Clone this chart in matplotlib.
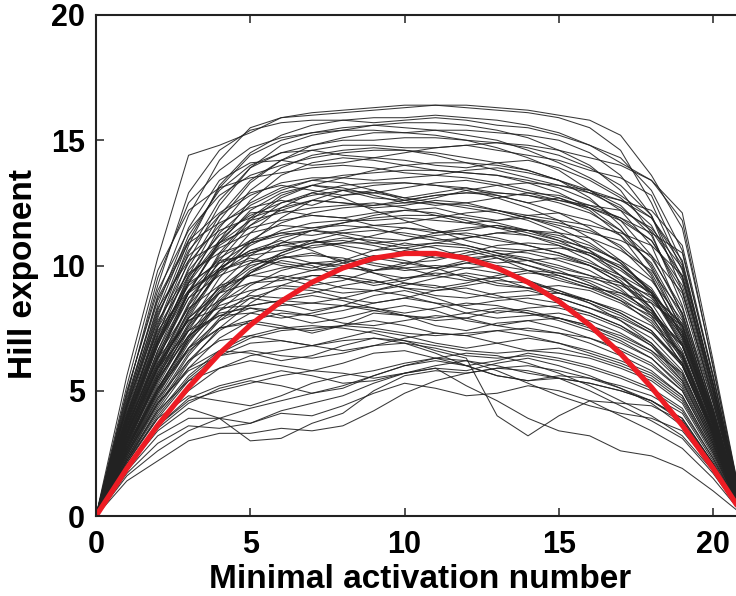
import numpy as np
import matplotlib
matplotlib.use("Agg")
import matplotlib.pyplot as plt

# minimal activation number (x) and Hill exponent curves
n_act = list(range(22))

red_mean = [0, 1.90, 3.62, 5.14, 6.48, 7.62, 8.57, 9.33, 9.90, 10.29, 10.48,
            10.48, 10.29, 9.90, 9.33, 8.57, 7.62, 6.48, 5.14, 3.62, 1.90, 0]

hill_curves = [
    [0, 5.6, 10.3, 14.4, 14.8, 15.3, 15.9, 16.0, 16.1, 16.2, 16.3, 16.4, 16.4, 16.3, 16.2, 16.0, 15.8, 15.2, 13.6, 11.5, 6.0, 0],
    [0, 4.5, 8.8, 12.0, 14.2, 15.5, 15.9, 16.1, 16.2, 16.3, 16.4, 16.4, 16.3, 16.2, 16.1, 15.9, 15.5, 14.6, 12.5, 9.8, 5.0, 0],
    [0, 4.0, 7.6, 10.8, 13.2, 14.5, 15.2, 15.6, 15.8, 15.9, 15.9, 16.0, 15.9, 15.8, 15.6, 15.3, 14.8, 14.1, 13.4, 11.8, 5.9, 0],
    [0, 4.8, 9.5, 12.5, 13.8, 14.7, 15.1, 15.3, 15.4, 15.4, 15.3, 15.4, 15.4, 15.3, 15.2, 15.0, 14.5, 13.6, 12.0, 9.0, 4.6, 0],
    [0, 3.8, 7.2, 10.2, 12.4, 13.9, 14.8, 15.2, 15.4, 15.6, 15.7, 15.7, 15.6, 15.4, 15.1, 14.6, 14.0, 13.0, 11.3, 8.4, 4.2, 0],
    [0, 4.3, 8.2, 11.2, 13.0, 14.0, 14.5, 14.8, 15.0, 15.0, 15.1, 15.1, 15.0, 14.9, 14.7, 14.4, 13.9, 13.2, 12.0, 9.5, 5.0, 0],
    [0, 3.5, 6.8, 9.6, 11.8, 13.3, 14.2, 14.8, 15.1, 15.3, 15.3, 15.2, 15.0, 14.7, 14.3, 13.8, 13.0, 12.2, 10.8, 8.0, 4.0, 0],
    [0, 5.0, 9.0, 11.4, 12.8, 13.6, 14.0, 14.3, 14.5, 14.6, 14.6, 14.5, 14.3, 14.1, 13.8, 13.4, 12.9, 12.3, 11.4, 9.6, 5.2, 0],
    [0, 3.6, 6.9, 9.5, 11.3, 12.4, 13.0, 13.4, 13.6, 13.7, 13.8, 13.8, 13.7, 13.6, 13.4, 13.1, 12.6, 11.8, 10.4, 8.1, 4.3, 0],
    [0, 4.2, 8.0, 10.6, 12.0, 12.8, 13.3, 13.5, 13.5, 13.4, 13.5, 13.6, 13.5, 13.3, 13.0, 12.7, 12.3, 11.8, 11.0, 9.2, 4.8, 0],
    [0, 3.1, 6.0, 8.5, 10.4, 11.8, 12.7, 13.2, 13.5, 13.8, 14.0, 14.1, 14.1, 14.0, 13.8, 13.4, 12.7, 11.6, 9.9, 7.4, 3.8, 0],
    [0, 3.9, 7.3, 9.8, 11.2, 12.0, 12.5, 12.8, 13.0, 13.2, 13.3, 13.2, 13.1, 12.9, 12.8, 12.5, 12.1, 11.4, 10.3, 8.3, 4.5, 0],
    [0, 2.9, 5.6, 8.0, 9.9, 11.3, 12.3, 12.9, 13.2, 13.3, 13.3, 13.2, 13.0, 12.7, 12.3, 11.8, 11.1, 10.2, 8.9, 6.8, 3.6, 0],
    [0, 4.6, 8.6, 10.9, 11.7, 12.3, 12.6, 12.4, 12.8, 13.0, 12.7, 12.9, 13.1, 12.8, 12.5, 12.7, 12.2, 11.2, 9.6, 7.1, 3.8, 0],
    [0, 3.3, 6.4, 9.0, 10.8, 11.6, 12.2, 12.6, 12.5, 12.4, 12.6, 12.8, 12.9, 12.9, 12.8, 12.6, 12.3, 11.9, 11.3, 10.5, 5.6, 0],
    [0, 3.7, 7.0, 9.4, 11.0, 12.1, 12.2, 12.0, 11.9, 12.1, 12.2, 12.3, 12.0, 11.8, 11.9, 11.7, 11.4, 10.8, 9.7, 7.5, 3.9, 0],
    [0, 2.7, 5.3, 7.6, 9.5, 10.9, 11.9, 12.6, 13.0, 12.9, 12.7, 12.5, 12.3, 12.1, 11.8, 11.3, 10.6, 9.6, 8.3, 6.3, 3.3, 0],
    [0, 4.0, 7.7, 10.1, 11.6, 12.5, 13.1, 13.4, 13.3, 13.0, 12.6, 12.4, 12.5, 12.7, 12.9, 12.8, 12.4, 11.9, 11.0, 9.0, 4.7, 0],
    [0, 3.0, 5.8, 8.1, 9.8, 10.8, 11.4, 11.7, 11.8, 11.8, 11.9, 11.8, 11.7, 11.5, 11.2, 10.8, 10.2, 9.4, 8.3, 6.4, 3.4, 0],
    [0, 3.5, 6.6, 8.9, 10.3, 11.0, 11.3, 11.2, 11.4, 11.6, 11.5, 11.3, 11.4, 11.6, 11.3, 11.0, 10.7, 10.2, 9.4, 7.8, 4.2, 0],
    [0, 2.6, 5.0, 7.2, 8.9, 10.1, 10.9, 11.4, 11.7, 11.9, 12.0, 12.0, 11.9, 11.7, 11.4, 11.0, 10.4, 9.6, 8.5, 6.6, 3.5, 0],
    [0, 4.4, 7.8, 9.7, 10.5, 10.9, 11.2, 11.4, 11.3, 11.1, 11.0, 11.2, 11.3, 11.1, 10.8, 10.5, 10.1, 9.6, 8.9, 7.6, 4.1, 0],
    [0, 3.2, 6.1, 8.4, 9.9, 10.6, 10.8, 10.7, 10.9, 11.2, 11.5, 11.4, 11.0, 10.7, 10.6, 10.4, 10.0, 9.3, 8.2, 6.2, 3.3, 0],
    [0, 2.8, 5.4, 7.5, 9.0, 9.9, 10.5, 10.9, 11.1, 11.0, 10.8, 10.9, 11.1, 11.3, 11.2, 10.9, 10.5, 9.9, 9.0, 7.3, 3.9, 0],
    [0, 3.8, 7.1, 9.2, 10.2, 10.4, 10.6, 10.9, 11.0, 10.8, 10.5, 10.3, 10.4, 10.6, 10.5, 10.2, 9.8, 9.1, 8.0, 6.0, 3.2, 0],
    [0, 2.5, 4.9, 7.0, 8.6, 9.7, 10.4, 10.8, 10.9, 10.9, 10.7, 10.4, 10.3, 10.4, 10.6, 10.7, 10.5, 10.0, 9.1, 7.2, 3.8, 0],
    [0, 3.4, 6.5, 8.7, 9.6, 10.1, 10.4, 10.1, 9.9, 10.2, 10.6, 10.8, 10.7, 10.4, 10.0, 9.6, 9.2, 8.8, 8.1, 6.9, 3.7, 0],
    [0, 4.1, 7.4, 9.0, 9.8, 10.3, 10.0, 9.8, 10.1, 10.4, 10.2, 9.9, 10.1, 10.3, 10.0, 9.7, 9.5, 9.2, 8.6, 7.4, 4.0, 0],
    [0, 2.4, 4.6, 6.5, 7.9, 8.9, 9.5, 9.8, 9.9, 9.8, 9.9, 10.0, 9.9, 9.7, 9.4, 9.0, 8.5, 7.8, 6.9, 5.5, 3.0, 0],
    [0, 3.3, 6.0, 7.9, 8.9, 9.3, 9.4, 9.6, 9.5, 9.3, 9.5, 9.7, 9.6, 9.3, 9.1, 8.9, 8.6, 8.2, 7.6, 6.5, 3.5, 0],
    [0, 2.2, 4.3, 6.1, 7.5, 8.5, 9.2, 9.6, 9.6, 9.4, 9.1, 9.0, 9.2, 9.4, 9.3, 9.0, 8.6, 8.1, 7.4, 6.1, 3.3, 0],
    [0, 3.0, 5.6, 7.4, 8.4, 8.8, 8.7, 8.9, 9.2, 9.4, 9.1, 8.8, 8.7, 8.9, 9.0, 8.7, 8.3, 7.8, 7.1, 5.8, 3.1, 0],
    [0, 2.6, 5.1, 7.0, 8.2, 8.7, 8.5, 8.2, 8.4, 8.8, 9.0, 8.7, 8.3, 8.1, 8.3, 8.4, 8.1, 7.6, 6.8, 5.4, 2.9, 0],
    [0, 3.6, 6.3, 7.8, 8.3, 8.4, 8.6, 8.8, 8.6, 8.3, 8.1, 8.3, 8.5, 8.4, 8.1, 7.9, 7.6, 7.2, 6.6, 5.7, 3.1, 0],
    [0, 2.3, 4.4, 6.2, 7.4, 8.1, 8.4, 8.5, 8.4, 8.2, 8.0, 7.9, 8.1, 8.3, 8.2, 7.9, 7.5, 7.0, 6.3, 5.1, 2.8, 0],
    [0, 2.9, 5.4, 7.2, 8.1, 8.3, 8.0, 7.7, 7.9, 8.2, 8.4, 8.2, 7.8, 7.6, 7.8, 7.9, 7.6, 7.1, 6.5, 5.3, 2.9, 0],
    [0, 3.1, 5.7, 7.6, 8.9, 9.7, 10.2, 10.0, 9.5, 9.2, 9.4, 9.8, 10.1, 9.9, 9.4, 8.9, 8.5, 8.0, 7.3, 6.0, 3.2, 0],
    [0, 2.1, 4.0, 5.5, 6.5, 7.1, 7.4, 7.5, 7.6, 7.5, 7.3, 7.2, 7.3, 7.4, 7.2, 6.9, 6.6, 6.2, 5.7, 4.8, 2.6, 0],
    [0, 2.5, 4.7, 6.2, 7.0, 7.2, 7.0, 6.8, 7.1, 7.4, 7.2, 6.9, 6.7, 6.9, 7.1, 6.9, 6.5, 6.1, 5.6, 4.7, 2.5, 0],
    [0, 2.0, 3.7, 5.0, 5.9, 6.4, 6.6, 6.8, 7.0, 7.1, 7.0, 6.8, 6.6, 6.5, 6.6, 6.7, 6.4, 6.0, 5.5, 4.6, 2.5, 0],
    [0, 2.3, 4.2, 5.4, 5.9, 6.2, 6.0, 5.8, 6.1, 6.5, 6.6, 6.3, 6.0, 6.2, 6.5, 6.3, 6.0, 5.6, 5.1, 4.3, 2.3, 0],
    [0, 1.9, 3.4, 4.3, 3.9, 3.0, 3.1, 3.7, 4.1, 5.0, 5.6, 5.8, 5.7, 5.9, 6.0, 5.8, 5.5, 5.2, 4.8, 4.1, 2.2, 0],
    [0, 2.2, 4.1, 5.6, 6.6, 7.2, 7.5, 7.6, 7.5, 7.3, 7.0, 6.6, 6.3, 4.0, 3.2, 4.0, 4.6, 4.5, 4.4, 3.8, 2.1, 0],
    [0, 2.0, 3.6, 4.7, 5.2, 5.5, 5.8, 5.6, 5.3, 5.4, 5.7, 5.9, 5.2, 4.6, 3.9, 3.4, 3.2, 2.6, 2.4, 1.9, 1.0, 0],
    [0, 2.4, 4.5, 5.9, 6.6, 6.5, 6.2, 6.4, 6.8, 7.1, 6.9, 6.5, 6.0, 5.6, 5.4, 5.5, 5.3, 5.0, 4.6, 3.9, 2.1, 0],
    [0, 1.8, 3.2, 3.9, 3.9, 3.7, 4.2, 4.5, 4.8, 5.3, 5.7, 5.9, 5.8, 6.1, 6.3, 6.0, 5.6, 5.1, 4.5, 3.6, 2.0, 0],
    [0, 2.7, 5.0, 6.6, 7.5, 7.8, 7.6, 7.3, 7.6, 8.1, 8.0, 7.6, 7.4, 7.7, 7.8, 7.5, 7.1, 6.6, 6.0, 5.0, 2.7, 0],
    [0, 4.9, 9.2, 12.9, 14.6, 15.4, 15.7, 15.8, 15.8, 15.7, 15.8, 15.9, 15.8, 15.6, 15.5, 15.2, 14.8, 14.3, 13.0, 10.6, 5.5, 0],
    [0, 3.9, 7.5, 10.5, 12.6, 13.9, 14.5, 14.6, 14.4, 14.3, 14.5, 14.7, 14.8, 14.6, 14.4, 14.2, 13.8, 13.5, 12.8, 10.1, 5.2, 0],
    [0, 4.4, 8.4, 11.5, 13.4, 14.1, 14.2, 14.0, 14.1, 14.3, 14.2, 14.0, 13.9, 14.1, 14.2, 13.9, 13.4, 12.7, 11.6, 9.4, 4.9, 0],
    [0, 3.4, 6.6, 9.3, 11.5, 13.0, 13.9, 14.4, 14.6, 14.7, 14.6, 14.4, 14.1, 13.8, 13.5, 13.2, 12.9, 12.6, 12.2, 10.8, 5.6, 0],
    [0, 5.2, 9.8, 12.2, 13.1, 13.5, 13.7, 13.9, 14.0, 13.9, 13.7, 13.6, 13.8, 13.9, 13.7, 13.4, 13.0, 12.4, 11.2, 8.7, 4.5, 0],
    [0, 3.2, 6.2, 8.9, 11.0, 12.6, 13.6, 14.1, 14.3, 14.2, 14.0, 13.8, 13.7, 13.6, 13.3, 12.9, 12.3, 11.4, 10.0, 7.6, 3.9, 0],
    [0, 4.7, 8.7, 11.0, 12.1, 12.9, 13.2, 13.0, 12.8, 12.9, 13.1, 13.3, 13.4, 13.2, 12.9, 12.6, 12.4, 12.2, 11.5, 9.9, 5.3, 0],
    [0, 3.0, 5.9, 8.4, 10.5, 11.9, 12.8, 13.2, 13.0, 12.7, 12.6, 12.8, 12.9, 12.8, 12.5, 12.1, 11.5, 10.7, 9.5, 7.3, 3.8, 0],
    [0, 4.3, 8.1, 10.4, 11.4, 11.9, 12.3, 12.6, 12.5, 12.3, 12.4, 12.6, 12.5, 12.2, 11.9, 11.6, 11.3, 11.0, 10.4, 8.9, 4.7, 0],
    [0, 3.6, 6.8, 9.3, 10.9, 11.8, 12.1, 12.3, 12.4, 12.5, 12.3, 12.0, 11.7, 11.8, 12.0, 12.1, 11.8, 11.2, 10.1, 7.9, 4.1, 0],
    [0, 2.8, 5.5, 7.9, 9.8, 11.0, 11.7, 12.1, 12.3, 12.4, 12.5, 12.5, 12.4, 12.2, 11.9, 11.5, 10.9, 10.1, 8.9, 6.9, 3.6, 0],
    [0, 4.0, 7.5, 9.6, 10.7, 11.3, 11.6, 11.5, 11.7, 12.0, 12.2, 12.1, 11.8, 11.5, 11.4, 11.3, 11.1, 10.6, 9.8, 8.1, 4.3, 0],
    [0, 3.3, 6.3, 8.7, 10.1, 10.9, 11.3, 11.5, 11.6, 11.5, 11.2, 11.0, 11.1, 11.3, 11.4, 11.2, 10.8, 10.1, 9.0, 7.1, 3.7, 0],
    [0, 2.7, 5.2, 7.4, 9.2, 10.4, 11.1, 11.4, 11.2, 10.9, 11.0, 11.3, 11.5, 11.6, 11.4, 11.1, 10.6, 9.9, 8.8, 6.8, 3.6, 0],
    [0, 3.9, 7.2, 9.3, 10.1, 10.5, 10.8, 11.0, 10.8, 10.6, 10.7, 10.9, 10.8, 10.5, 10.2, 9.9, 9.6, 9.3, 8.8, 7.7, 4.1, 0],
    [0, 3.1, 5.9, 8.2, 9.7, 10.5, 10.9, 11.0, 10.7, 10.3, 10.1, 10.2, 10.5, 10.8, 10.9, 10.8, 10.4, 9.8, 8.9, 7.0, 3.7, 0],
    [0, 2.5, 4.8, 6.9, 8.5, 9.7, 10.5, 11.0, 11.3, 11.4, 11.3, 11.1, 10.8, 10.5, 10.3, 10.0, 9.6, 9.0, 8.1, 6.4, 3.4, 0],
    [0, 3.7, 6.9, 8.9, 9.8, 10.2, 10.1, 9.9, 10.2, 10.6, 10.9, 10.7, 10.3, 10.1, 10.2, 10.3, 10.0, 9.5, 8.7, 7.2, 3.8, 0],
    [0, 2.9, 5.5, 7.7, 9.1, 10.0, 10.3, 10.4, 10.3, 10.0, 9.8, 9.9, 10.2, 10.4, 10.2, 9.8, 9.3, 8.7, 7.9, 6.4, 3.4, 0],
    [0, 3.5, 6.4, 8.3, 9.2, 9.6, 9.9, 10.1, 10.0, 9.7, 9.5, 9.6, 9.9, 10.0, 9.8, 9.5, 9.1, 8.6, 8.0, 6.8, 3.6, 0],
    [0, 2.4, 4.7, 6.7, 8.2, 9.2, 9.8, 10.1, 10.2, 10.1, 9.9, 9.6, 9.4, 9.5, 9.7, 9.6, 9.2, 8.6, 7.7, 6.1, 3.3, 0],
    [0, 3.2, 5.9, 7.9, 9.1, 9.6, 9.5, 9.2, 9.4, 9.8, 10.1, 9.9, 9.5, 9.2, 9.1, 9.2, 9.0, 8.5, 7.8, 6.3, 3.4, 0],
    [0, 2.7, 5.1, 7.1, 8.5, 9.3, 9.6, 9.4, 9.1, 9.0, 9.2, 9.5, 9.7, 9.5, 9.1, 8.7, 8.3, 7.9, 7.3, 6.1, 3.3, 0],
    [0, 3.4, 6.1, 7.8, 8.6, 9.0, 9.2, 9.1, 8.9, 9.0, 9.3, 9.2, 8.9, 8.7, 8.8, 8.9, 8.6, 8.1, 7.4, 6.0, 3.2, 0],
    [0, 2.3, 4.5, 6.4, 7.8, 8.7, 9.1, 9.0, 8.7, 8.5, 8.7, 9.0, 9.1, 8.8, 8.5, 8.3, 8.0, 7.5, 6.8, 5.6, 3.0, 0],
    [0, 3.0, 5.5, 7.2, 8.0, 8.4, 8.6, 8.5, 8.7, 9.0, 8.8, 8.5, 8.4, 8.6, 8.7, 8.5, 8.1, 7.6, 6.9, 5.7, 3.1, 0],
    [0, 2.6, 4.9, 6.7, 7.8, 8.3, 8.2, 8.0, 8.2, 8.5, 8.7, 8.5, 8.1, 7.9, 8.0, 8.1, 7.8, 7.3, 6.6, 5.4, 2.9, 0],
    [0, 3.3, 5.9, 7.4, 8.0, 8.1, 7.9, 8.1, 8.4, 8.3, 8.0, 7.8, 7.9, 8.2, 8.1, 7.8, 7.4, 6.9, 6.3, 5.2, 2.8, 0],
    [0, 2.2, 4.2, 5.9, 7.1, 7.8, 8.1, 8.0, 7.7, 7.6, 7.8, 8.0, 7.9, 7.6, 7.4, 7.3, 7.1, 6.7, 6.1, 5.0, 2.7, 0],
    [0, 2.8, 5.1, 6.7, 7.5, 7.7, 7.5, 7.4, 7.6, 7.8, 7.6, 7.3, 7.2, 7.4, 7.5, 7.3, 6.9, 6.4, 5.8, 4.8, 2.6, 0],
    [0, 2.1, 3.9, 5.4, 6.4, 6.9, 7.0, 6.8, 6.6, 6.8, 7.1, 7.3, 7.2, 6.9, 6.6, 6.5, 6.3, 5.9, 5.4, 4.5, 2.4, 0],
    [0, 2.5, 4.5, 5.8, 6.4, 6.6, 6.4, 6.3, 6.5, 6.8, 6.9, 6.7, 6.4, 6.3, 6.4, 6.2, 5.9, 5.5, 5.0, 4.2, 2.3, 0],
    [0, 2.0, 3.6, 4.6, 5.0, 5.3, 5.6, 5.8, 5.7, 5.5, 5.7, 6.0, 6.2, 6.0, 5.7, 5.5, 5.3, 5.0, 4.6, 3.9, 2.1, 0],
    [0, 2.2, 3.9, 4.8, 4.6, 4.4, 4.8, 5.3, 5.6, 5.8, 6.1, 6.3, 6.2, 5.8, 5.3, 4.8, 4.4, 4.1, 3.9, 3.4, 1.9, 0],
    [0, 1.9, 3.5, 4.5, 5.1, 5.4, 5.2, 4.9, 5.1, 5.6, 6.0, 6.2, 6.0, 5.6, 5.4, 5.6, 5.5, 5.1, 4.6, 3.8, 2.0, 0],
    [0, 3.7, 7.0, 9.9, 12.0, 13.4, 14.2, 14.6, 14.8, 14.8, 14.7, 14.7, 14.8, 14.9, 14.8, 14.6, 14.3, 14.0, 13.4, 12.1, 6.2, 0],
    [0, 4.1, 7.9, 11.0, 13.1, 14.4, 15.0, 15.3, 15.5, 15.6, 15.5, 15.4, 15.2, 15.0, 14.6, 14.1, 13.5, 12.8, 11.9, 10.2, 5.3, 0],
    [0, 3.3, 6.3, 8.9, 10.9, 12.2, 12.9, 13.2, 13.1, 12.8, 12.5, 12.7, 13.0, 13.2, 13.3, 13.2, 13.0, 12.6, 11.9, 10.0, 5.2, 0],
    [0, 4.5, 8.3, 10.2, 10.9, 11.5, 11.8, 12.0, 11.9, 11.6, 11.7, 11.9, 12.1, 12.2, 12.0, 11.8, 11.6, 11.3, 10.8, 9.6, 5.0, 0],
    [0, 2.9, 5.7, 8.2, 10.2, 11.6, 12.5, 12.9, 12.7, 12.2, 11.8, 11.4, 11.2, 11.0, 10.8, 10.5, 10.0, 9.3, 8.3, 6.5, 3.4, 0],
    [0, 3.8, 7.0, 9.0, 9.9, 10.6, 11.0, 10.6, 10.1, 9.8, 10.0, 10.4, 10.6, 10.3, 9.8, 9.4, 9.1, 8.9, 8.5, 7.6, 4.0, 0],
    [0, 2.6, 5.0, 7.1, 8.7, 9.8, 10.3, 10.5, 10.2, 9.7, 9.3, 9.1, 9.3, 9.6, 9.8, 9.7, 9.4, 8.9, 8.2, 6.8, 3.6, 0],
    [0, 1.4, 2.2, 3.0, 3.3, 3.3, 3.5, 3.4, 3.6, 4.2, 4.9, 5.4, 5.7, 5.9, 5.8, 5.5, 5.0, 4.4, 3.8, 3.1, 1.7, 0],
    [0, 1.6, 2.6, 3.4, 3.9, 4.3, 4.6, 4.9, 5.2, 5.6, 6.0, 6.3, 6.5, 6.4, 6.1, 5.7, 5.2, 4.6, 4.0, 3.2, 1.8, 0],
    [0, 1.7, 2.9, 3.6, 3.5, 3.7, 4.1, 4.0, 4.4, 4.9, 5.3, 5.1, 4.8, 4.9, 5.2, 5.0, 4.6, 4.0, 3.4, 2.7, 1.5, 0],
]

plt.rcParams['font.family'] = ['Liberation Sans', 'DejaVu Sans']
plt.rcParams['font.weight'] = 'bold'

fig = plt.figure(figsize=(7.36, 5.96), dpi=100)
ax = fig.add_axes([96 / 736, 80 / 596, 648 / 736, 501 / 596])

for ys in hill_curves:
    ax.plot(n_act, ys, color='#222222', lw=0.75, alpha=0.9)
ax.plot(n_act, red_mean, color='#ed1c24', lw=3.8, solid_capstyle='round')

ax.set_xlim(0, 21)
ax.set_ylim(0, 20)
ax.set_xticks([0, 5, 10, 15, 20])
ax.set_yticks([0, 5, 10, 15, 20])
ax.tick_params(direction='in', length=6, width=1.2, top=True, right=True,
               labelsize=22, color='#333333')
ax.tick_params(axis='x', pad=10)
ax.tick_params(axis='y', pad=8)
for s in ax.spines.values():
    s.set_linewidth(1.5)
    s.set_color('#222222')
for lab in ax.get_xticklabels() + ax.get_yticklabels():
    lab.set_fontweight('bold')

ax.set_xlabel("Minimal activation number", fontsize=24, fontweight='bold')
ax.set_ylabel("Hill exponent", fontsize=24, fontweight='bold')
ax.xaxis.set_label_coords(0.5, -0.095)
ax.yaxis.set_label_coords(-0.088, 0.483)

fig.savefig("out.png", dpi=100)
